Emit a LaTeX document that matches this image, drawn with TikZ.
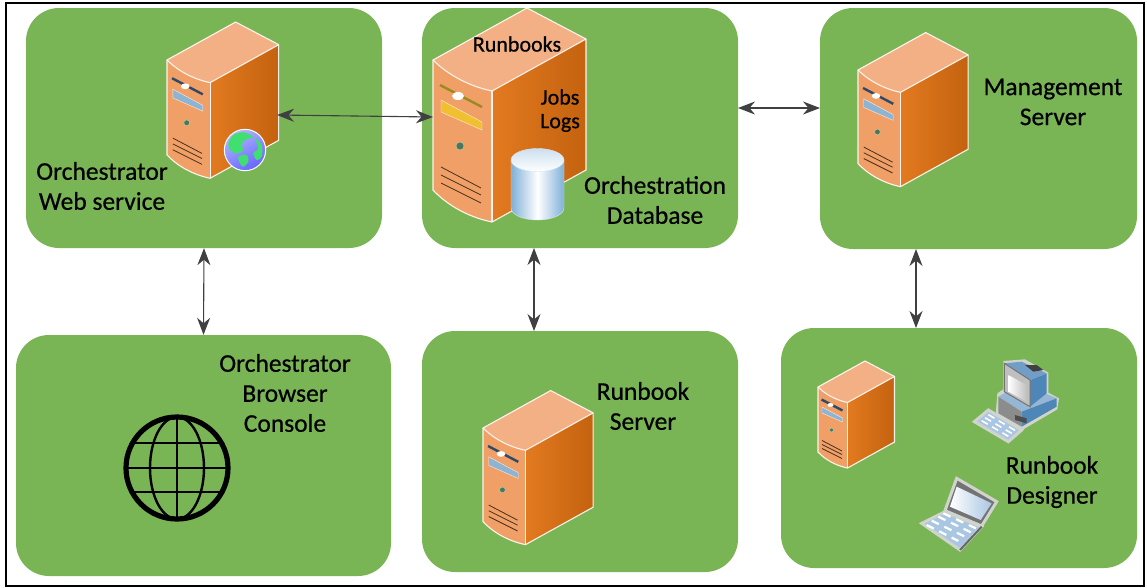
\documentclass[tikz,border=0pt]{standalone}
\usepackage{fontspec}
\setmainfont[FakeBold=0.6,AutoFakeBold=false]{Carlito}
\usetikzlibrary{arrows.meta,shadings}

\definecolor{mPanel}{HTML}{7AB555}
\definecolor{mTop}{HTML}{F3B084}
\definecolor{mFront}{HTML}{F0A066}
\definecolor{mSideA}{HTML}{E27A20}
\definecolor{mSideB}{HTML}{C4620F}
\definecolor{mNavy}{HTML}{2F4A68}
\definecolor{mBay}{HTML}{8FB4D2}
\definecolor{mGold}{HTML}{F0C030}
\definecolor{mOlive}{HTML}{9A8A20}
\definecolor{mCyl}{HTML}{7FB0D8}
\definecolor{mKey}{HTML}{A9C6E2}
\definecolor{mPcBlue}{HTML}{4F86B8}
\definecolor{mHalo}{HTML}{D0D4CC}
\definecolor{mLand}{HTML}{40E070}

\tikzset{
  panel/.style={fill=mPanel, rounded corners=33pt, inner sep=0pt},
  label/.style={align=center, font=\fontsize{25.5}{30}\selectfont, text=black},
  smalllabel/.style={font=\fontsize{22}{26}\selectfont, text=black},
  link/.style={<->, >={Stealth[length=17pt,width=13pt]}, black!75, line width=1.1pt},
  edge/.style={white!85!mTop, line width=1.1pt},
  pics/server/.style 2 args={code={
    % top, front and side faces
    \fill[mTop] (0,0) -- (94,-52) -- (153,-21) -- (59,31) .. controls (35,26) and (14,14) .. (0,0) -- cycle;
    \fill[mFront] (0,0) .. controls (14,14) and (35,26) .. (59,31) -- (59,162) .. controls (35,157) and (14,145) .. (0,130) -- cycle;
    \shade[left color=mSideA, right color=mSideB] (59,31) -- (153,-21) -- (153,110) -- (59,162) -- cycle;
    \draw[edge] (0,0) -- (94,-52) -- (153,-21) -- (153,110) -- (59,162) .. controls (35,157) and (14,145) .. (0,130) -- cycle;
    \draw[edge] (0,0) .. controls (14,14) and (35,26) .. (59,31) -- (153,-21);
    \draw[edge] (59,31) -- (59,162);
    % drive bays
    \draw[#1, line width=2.4pt] (7,25) -- (49,47);
    \fill[white] (25,36) ellipse (6 and 4);
    \fill[#2, draw=white!80!mFront] (8,40) -- (49,62) -- (49,70) -- (8,52) -- cycle;
    % power button
    \fill[mNavy!60!mPanel, draw=white!50!mPanel] (27,86) circle (4);
    % vent
    \draw[black!70!mFront, line width=.8pt] (8,107) -- (48,128) (8,115) -- (48,135) (8,123) -- (48,143);
  }},
}

\begin{document}
\begin{tikzpicture}[x=1pt,y=-1pt]
\useasboundingbox (0,0) rectangle (1147,587);

\draw[line width=2.6pt] (6,3) rectangle (1144,586);

% panels
\node[panel, minimum width=356pt, minimum height=240pt] (webpanel) at (204,128) {};
\node[panel, minimum width=316pt, minimum height=240pt] (dbpanel) at (580,128) {};
\node[panel, minimum width=317pt, minimum height=241pt] (mgmtpanel) at (978.5,128.5) {};
\node[panel, minimum width=375pt, minimum height=241pt] (consolepanel) at (203.5,455.5) {};
\node[panel, minimum width=316pt, minimum height=241pt] (runbookpanel) at (580,451.5) {};
\node[panel, minimum width=356pt, minimum height=240pt] (designerpanel) at (959,448) {};

% servers
\pic[scale=.73] at (167,60) {server={mNavy}{mBay}};
\pic at (433,60) {server={mOlive}{mGold}};
\pic[scale=.72] at (858,70) {server={mNavy}{mBay}};
\pic[scale=.72] at (483,428) {server={mNavy}{mBay}};
\pic[scale=.5] at (818,387) {server={mNavy}{mBay}};

% small globe
\begin{scope}[shift={(220,125)},scale=1/3]
\shade[top color=white!70!blue, bottom color=blue!60!white, shading angle=30, draw=white, line width=1pt] (75,75) circle (62);
\fill[mLand, smooth] plot[smooth cycle] coordinates {(25,55) (40,30) (70,22) (100,35) (75,45) (65,60) (70,75) (50,85) (30,75)};
\fill[mLand] plot[smooth cycle] coordinates {(105,40) (125,60) (125,95) (110,105) (100,85) (115,70)};
\fill[mLand] plot[smooth cycle] coordinates {(55,95) (80,90) (85,110) (70,125) (60,115)};
\end{scope}

% cylinder
\shade[left color=mCyl, right color=mCyl, middle color=white, draw=white!70!mCyl] (511,160) -- (511,208) arc[start angle=180, end angle=0, x radius=26.5, y radius=12] -- (564,160) -- cycle;
\shade[top color=white!60!mCyl, bottom color=white, draw=white!70!mCyl] (537.5,160) ellipse (26.5 and 11.5);

% big globe
\draw[line width=5.2pt] (177,468) circle (51);
\draw[line width=2.4pt] (177,468) ellipse (27 and 51);
\draw[line width=2.6pt] (177,417) -- (177,519) (126,468) -- (228,468) (133,443) -- (221,443) (133,492) -- (221,492);

% desktop
\begin{scope}[shift={(965,350)},scale=1/3]
\fill[mHalo] (115,33) -- (180,28) -- (250,68) -- (250,128) -- (282,145) -- (277,178) -- (175,238) -- (92,192) -- (97,130) -- (115,118) -- cycle;
\fill[mPcBlue!60!white] (100,140) -- (135,120) -- (240,130) -- (275,145) -- (170,185) -- cycle;
\fill[black!45] (100,140) -- (170,185) -- (170,230) -- (100,190) -- cycle;
\fill[mPcBlue] (170,185) -- (275,145) -- (275,170) -- (170,230) -- cycle;
\fill[black!70] (150,195) -- (185,205) -- (185,220) -- (150,210) -- cycle;
\fill[mPcBlue] (195,90) -- (245,70) -- (245,130) -- (195,170) -- cycle;
\fill[mPcBlue!80!white] (118,40) -- (170,35) -- (245,70) -- (195,90) -- cycle;
\fill[black!75] (180,45) -- (215,45) -- (235,60) -- (205,65) -- cycle;
\fill[black!25, draw=black!55, line width=1pt] (118,40) -- (195,90) -- (195,170) -- (118,125) -- cycle;
\shade[left color=white, right color=black!25] (130,75) -- (185,105) -- (185,155) -- (130,125) -- cycle;
\fill[mKey, draw=mHalo, line width=3pt] (28,215) -- (70,180) -- (170,240) -- (130,275) -- cycle;
\draw[white, line width=1.6pt, dash pattern=on 7 off 5] (50,212) -- (135,262) (60,203) -- (145,253) (70,194) -- (155,244);
\end{scope}

% laptop
\begin{scope}[shift={(910,470)},scale=1/3]
\fill[black!55, draw=mHalo, line width=3pt] (140,25) -- (260,95) -- (215,168) -- (105,122) -- cycle;
\shade[left color=white, right color=mKey] (140,50) -- (245,100) -- (212,150) -- (120,110) -- cycle;
\fill[mKey, draw=mHalo, line width=3pt] (105,125) -- (215,170) -- (150,240) -- (35,160) -- cycle;
\draw[black!60, line width=2pt] (215,170) -- (150,240);
\draw[white, line width=2.2pt, dash pattern=on 8 off 6] (65,152) -- (165,200) (85,140) -- (185,188) (100,130) -- (200,176) (50,165) -- (145,213);
\end{scope}

% connectors
\coordinate (websrv) at (277,115);
\coordinate (dbsrv) at (433,117);
\coordinate (dbright) at (738,108);
\coordinate (mgmtleft) at (820,108);
\coordinate (dbbottom) at (534,248);
\coordinate (runbooktop) at (534,331);
\coordinate (mgmtbottom) at (916,249);
\coordinate (designertop) at (916,328);

\draw[link] (websrv) -- (dbsrv);
\draw[link] (dbright) -- (mgmtleft);
\draw[link] (webpanel.south) -- (consolepanel.north);
\draw[link] (dbbottom) -- (runbooktop);
\draw[link] (mgmtbottom) -- (designertop);

% labels
\node[label] (weblabel) at (102,186) {Orchestrator\\Web service};
\node[label] (dblabel) at (655,200) {Orchestration\\Database};
\node[label] (mgmtlabel) at (1053,102) {Management\\Server};
\node[label] (consolelabel) at (285,393) {Orchestrator\\Browser\\Console};
\node[label] (runbooklabel) at (643,406) {Runbook\\Server};
\node[label] (designerlabel) at (1052,482) {Runbook\\Designer};
\node[smalllabel] (runbookslabel) at (517,44) {Runbooks};
\node[smalllabel] (jobslabel) at (560,97) {Jobs};
\node[smalllabel] (logslabel) at (560,123) {Logs};

\end{tikzpicture}
\end{document}
